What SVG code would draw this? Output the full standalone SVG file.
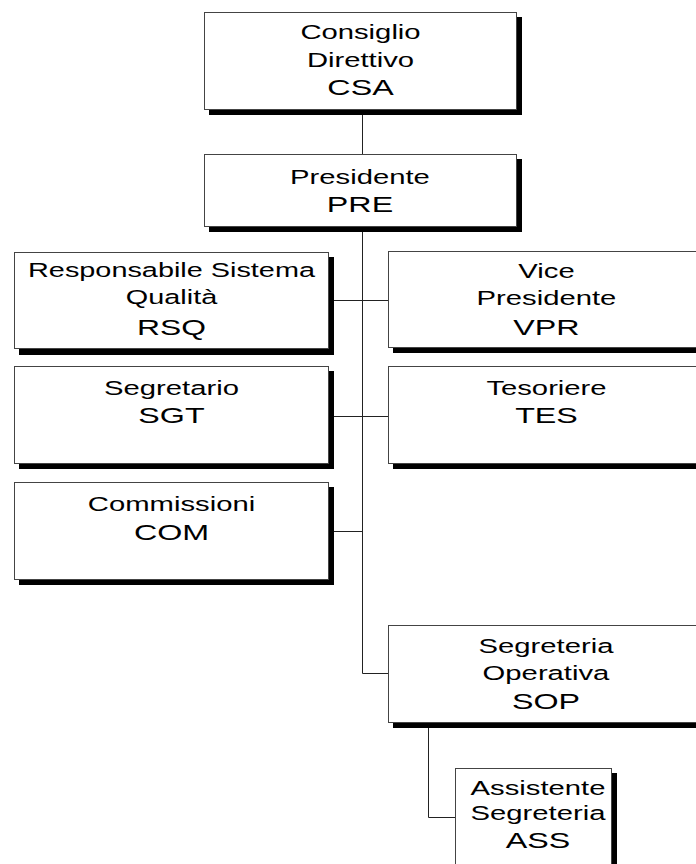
<svg xmlns="http://www.w3.org/2000/svg" width="696" height="864" viewBox="0 0 696 864">
<style>
.sh{fill:#000}
.bx{fill:#fff;stroke:#444;stroke-width:1}
.t{font-family:"Liberation Sans",Arial,sans-serif;font-size:19.5px;fill:#000;text-anchor:middle}
.c{font-size:21.5px}
.ln{fill:none;stroke:#222;stroke-width:1}
</style>
<rect width="696" height="864" fill="#fff"/>
<g id="connectors">
<path class="ln" d="M362.5 115V154"/>
<path class="ln" d="M362.5 232V673.5H388"/>
<path class="ln" d="M334 300.5H388"/>
<path class="ln" d="M334 416.5H388"/>
<path class="ln" d="M334 531.5H362.5"/>
<path class="ln" d="M428.5 728V817.5H455"/>
</g>
<g id="CSA">
<rect class="sh" x="209" y="17" width="313" height="98"/>
<rect class="bx" x="204.5" y="12.5" width="312" height="97"/>
<text class="t" transform="translate(360.5 0) scale(1.5 1)"><tspan x="0" y="39">Consiglio</tspan><tspan x="0" y="67">Direttivo</tspan><tspan class="c" x="0" y="95.5">CSA</tspan></text>
</g>
<g id="PRE">
<rect class="sh" x="209" y="159" width="313" height="73"/>
<rect class="bx" x="204.5" y="154.5" width="312" height="72"/>
<text class="t" transform="translate(360 0) scale(1.5 1)"><tspan x="0" y="184">Presidente</tspan><tspan class="c" x="0" y="212">PRE</tspan></text>
</g>
<g id="RSQ">
<rect class="sh" x="19" y="257" width="315" height="98"/>
<rect class="bx" x="14.5" y="252.5" width="314" height="96"/>
<text class="t" transform="translate(171.5 0) scale(1.48 1)"><tspan x="0" y="277.5">Responsabile Sistema</tspan><tspan x="0" y="304">Qualità</tspan><tspan class="c" x="0" y="335">RSQ</tspan></text>
</g>
<g id="VPR">
<rect class="sh" x="393" y="256" width="318" height="97"/>
<rect class="bx" x="388.5" y="251.5" width="318" height="96"/>
<text class="t" transform="translate(546.5 0) scale(1.5 1)"><tspan x="0" y="278">Vice</tspan><tspan x="0" y="305.5">Presidente</tspan><tspan class="c" x="0" y="335">VPR</tspan></text>
</g>
<g id="SGT">
<rect class="sh" x="19" y="371" width="315" height="98"/>
<rect class="bx" x="14.5" y="366.5" width="314" height="97"/>
<text class="t" transform="translate(171.5 0) scale(1.5 1)"><tspan x="0" y="395">Segretario</tspan><tspan class="c" x="0" y="423">SGT</tspan></text>
</g>
<g id="TES">
<rect class="sh" x="393" y="371" width="318" height="98"/>
<rect class="bx" x="388.5" y="366.5" width="318" height="97"/>
<text class="t" transform="translate(546.5 0) scale(1.5 1)"><tspan x="0" y="395">Tesoriere</tspan><tspan class="c" x="0" y="423">TES</tspan></text>
</g>
<g id="COM">
<rect class="sh" x="19" y="487" width="315" height="98"/>
<rect class="bx" x="14.5" y="482.5" width="314" height="97"/>
<text class="t" transform="translate(171.5 0) scale(1.5 1)"><tspan x="0" y="511.5">Commissioni</tspan><tspan class="c" x="0" y="540">COM</tspan></text>
</g>
<g id="SOP">
<rect class="sh" x="393" y="630" width="318" height="98"/>
<rect class="bx" x="388.5" y="625.5" width="318" height="97"/>
<text class="t" transform="translate(546 0) scale(1.5 1)"><tspan x="0" y="653">Segreteria</tspan><tspan x="0" y="680">Operativa</tspan><tspan class="c" x="0" y="709">SOP</tspan></text>
</g>
<g id="ASS">
<rect class="sh" x="460" y="773" width="157" height="110"/>
<rect class="bx" x="455.5" y="768.5" width="156" height="110"/>
<text class="t" transform="translate(538 0) scale(1.5 1)"><tspan x="0" y="795">Assistente</tspan><tspan x="0" y="820">Segreteria</tspan><tspan class="c" x="0" y="848">ASS</tspan></text>
</g>
</svg>
